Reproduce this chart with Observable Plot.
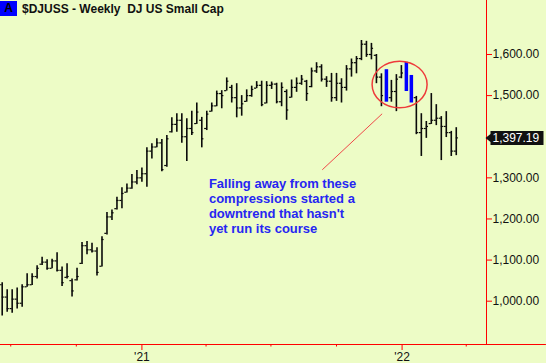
<!DOCTYPE html>
<html><head><meta charset="utf-8">
<script src="https://cdn.jsdelivr.net/npm/d3@7"></script>
<script src="https://cdn.jsdelivr.net/npm/@observablehq/plot@0.6"></script>
<style>
html,body{margin:0;padding:0;background:#EDFCC6;}
#wrap{position:relative;width:546px;height:363px;overflow:hidden;}
#hdr{position:absolute;left:0;top:1px;z-index:2;font:bold 12px "Liberation Sans",Arial,sans-serif;color:#111;white-space:pre;display:flex;align-items:center;}
#hdr .a{display:inline-block;width:17px;height:15px;line-height:15px;background:#0000ff;color:#000;text-align:center;margin-right:5px;}
</style></head><body>
<div id="wrap"><div id="hdr"><span class="a">A</span><span>$DJUSS - Weekly  DJ US Small Cap</span></div></div>
<script>
// ---- data (weekly OHLC) ----
const firstWeek = "2020-06-19";
const high = [
 1045,1028,1028,1032,1040,1067,1067,1086,1107,1101,
 1102,1118,1083,1091,1054,1080,1143,1145,1141,1130,
 1157,1216,1222,1253,1276,1285,1308,1318,1324,1373,
 1383,1395,1393,1403,1446,1456,1456,1444,1462,1482,
 1447,1462,1482,1511,1512,1543,1525,1529,1500,1514,
 1523,1534,1535,1534,1533,1530,1531,1514,1538,1543,
 1549,1537,1567,1580,1575,1546,1554,1554,1541,1573,
 1589,1595,1634,1632,1627,1600,1553,1563,1537,1551,
 1573,1581,1549,1498,1456,1437,1505,1478,1449,1461,
 1413,1422];
const low = [
 964,973,971,981,985,1034,1038,1054,1087,1075,
 1079,1071,1036,1054,1010,1049,1089,1113,1117,1061,
 1083,1161,1196,1222,1225,1263,1272,1283,1289,1277,
 1346,1373,1315,1326,1409,1411,1384,1340,1403,1430,
 1373,1415,1460,1473,1468,1511,1482,1446,1450,1484,
 1496,1517,1473,1480,1515,1480,1473,1440,1494,1508,
 1525,1486,1519,1554,1533,1520,1484,1486,1482,1511,
 1545,1553,1585,1593,1587,1529,1473,1484,1484,1461,
 1541,1510,1482,1405,1352,1396,1430,1427,1342,1398,
 1352,1354];
const open = [
 1040,1010,982,1005,995,1035,1040,1060,1090,1095,
 1080,1098,1075,1058,1050,1052,1092,1135,1125,1122,
 1085,1165,1205,1225,1245,1265,1275,1290,1300,1310,
 1365,1375,1385,1330,1412,1430,1440,1400,1420,1432,
 1440,1420,1462,1475,1505,1512,1520,1495,1470,1486,
 1500,1518,1525,1482,1525,1528,1485,1510,1496,1520,
 1530,1535,1522,1560,1570,1540,1535,1495,1530,1520,
 1565,1580,1590,1625,1600,1598,1545,1500,1495,1510,
 1545,1555,1520,1495,1410,1420,1432,1440,1445,1425,
 1410,1365];
const close = [
 1010,982,1005,995,1035,1040,1060,1080,1095,1080,
 1098,1075,1045,1060,1025,1060,1135,1125,1122,1070,
 1150,1205,1215,1245,1262,1275,1290,1300,1310,1365,
 1375,1385,1320,1395,1430,1440,1400,1420,1410,1460,
 1395,1455,1475,1505,1500,1535,1495,1470,1480,1500,
 1515,1525,1478,1525,1528,1485,1520,1465,1520,1530,
 1540,1505,1560,1570,1540,1535,1495,1530,1520,1565,
 1580,1590,1625,1600,1615,1545,1500,1495,1510,1540,
 1555,1520,1500,1410,1420,1425,1440,1445,1425,1410,
 1365,1397.19];
const highlighted = [77, 81, 82];            // "compression" weeks drawn in blue
const yTicks = [1000, 1100, 1200, 1300, 1500, 1600];
const quarterTicks = ["2020-07-01","2020-10-01","2021-04-01","2021-07-01","2021-10-01","2022-04-01"];
const yearTicks = ["2021-01-01","2022-01-01"];
const lastClose = 1397.19;
const noteText = "Falling away from these\ncompressions started a\ndowntrend that hasn't\nyet run its course";
const note = {x: "2021-04-05", y: 1302};
const pointer = {x1: "2021-09-11", y1: 1319.6, x2: "2021-12-04", y2: 1455.8};
const circleAt = {x: "2021-12-28T12:00", y: 1527};

// ---- build table ----
const start = new Date(firstWeek);
const bars = high.map((h, i) => ({
  date: d3.utcDay.offset(start, 7 * i),
  high: h, low: low[i], open: open[i], close: close[i],
  hl: highlighted.includes(i)
}));
const plain = bars.filter(d => !d.hl);
const blue = bars.filter(d => d.hl);

const xMin = d3.utcHour.offset(start, -57);
const xMax = d3.utcHour.offset(start, Math.round(679.4 * 24));
const xFar = d3.utcHour.offset(start, Math.round(763.5 * 24));
const tickH = 72; // hours
const fmt2 = d3.format(",.2f");

const tagSymbol = {draw(ctx) {
  ctx.moveTo(-1, 0); ctx.lineTo(4, -4); ctx.lineTo(4, -7); ctx.lineTo(57, -7);
  ctx.lineTo(57, 7); ctx.lineTo(4, 7); ctx.lineTo(4, 4); ctx.closePath();
}};
const ellipseSymbol = {draw(ctx) {
  const rx = 27.5, ry = 23.3, k = 0.5523;
  ctx.moveTo(rx, 0);
  ctx.bezierCurveTo(rx, k * ry, k * rx, ry, 0, ry);
  ctx.bezierCurveTo(-k * rx, ry, -rx, k * ry, -rx, 0);
  ctx.bezierCurveTo(-rx, -k * ry, -k * rx, -ry, 0, -ry);
  ctx.bezierCurveTo(k * rx, -ry, rx, -k * ry, rx, 0);
  ctx.closePath();
}};

const chart = Plot.plot({
  width: 546, height: 363,
  marginLeft: 0, marginRight: 60, marginTop: 0, marginBottom: 19,
  style: {background: "#EDFCC6", fontFamily: '"Liberation Sans", Arial, sans-serif', fontSize: "12px"},
  x: {type: "utc", domain: [xMin, xMax]},
  y: {domain: [894.7, 1731.3]},
  marks: [
    Plot.ruleX(plain, {x: "date", y1: "low", y2: "high", stroke: "#0a0a0a", strokeWidth: 1.6}),
    Plot.ruleY(plain, {y: "open", x1: d => d3.utcHour.offset(d.date, -tickH), x2: "date", stroke: "#0a0a0a", strokeWidth: 1.2}),
    Plot.ruleY(plain, {y: "close", x1: "date", x2: d => d3.utcHour.offset(d.date, tickH), stroke: "#0a0a0a", strokeWidth: 1.2}),
    Plot.ruleX(blue, {x: "date", y1: "low", y2: "high", stroke: "#0000FF", strokeWidth: 3.5}),
    Plot.dot([circleAt], {x: d => new Date(d.x), y: "y", symbol: ellipseSymbol, fill: "none", stroke: "#EE3A3A", strokeWidth: 1.5}),
    Plot.link([pointer], {x1: d => new Date(d.x1), y1: "y1", x2: d => new Date(d.x2), y2: "y2", stroke: "#F04848", strokeWidth: 1}),
    Plot.text([note], {x: d => new Date(d.x), y: "y", text: () => noteText, textAnchor: "start", lineAnchor: "top",
      fill: "#2626F2", fontWeight: "bold", fontSize: 13, lineHeight: 1.155}),
    Plot.ruleX([xMax], {x: d => d, stroke: "red", strokeWidth: 1}),
    Plot.ruleY([894.7], {y: d => d, x1: () => xMin, x2: () => xFar, stroke: "red", strokeWidth: 1}),
    Plot.axisY(yTicks, {anchor: "right", tickSize: 5, tickPadding: 1, tickFormat: fmt2, stroke: "red", fill: "#111", fontSize: 12, label: null}),
    Plot.axisX(quarterTicks.map(d => new Date(d)), {anchor: "bottom", tickSize: 2.5, tickFormat: () => "", stroke: "red", label: null}),
    Plot.axisX(yearTicks.map(d => new Date(d)), {anchor: "bottom", tickSize: 6, tickPadding: 2,
      tickFormat: d => "'" + d3.utcFormat("%y")(d), stroke: "red", fill: "#111", fontSize: 12, label: null}),
    Plot.dot([lastClose], {y: d => d, frameAnchor: "right", symbol: tagSymbol, fill: "#111", stroke: "none"}),
    Plot.text([lastClose], {y: d => d, frameAnchor: "right", dx: 6, textAnchor: "start", text: d => fmt2(d), fill: "white", fontSize: 12})
  ]
});
document.getElementById("wrap").prepend(chart);
</script>
</body></html>
